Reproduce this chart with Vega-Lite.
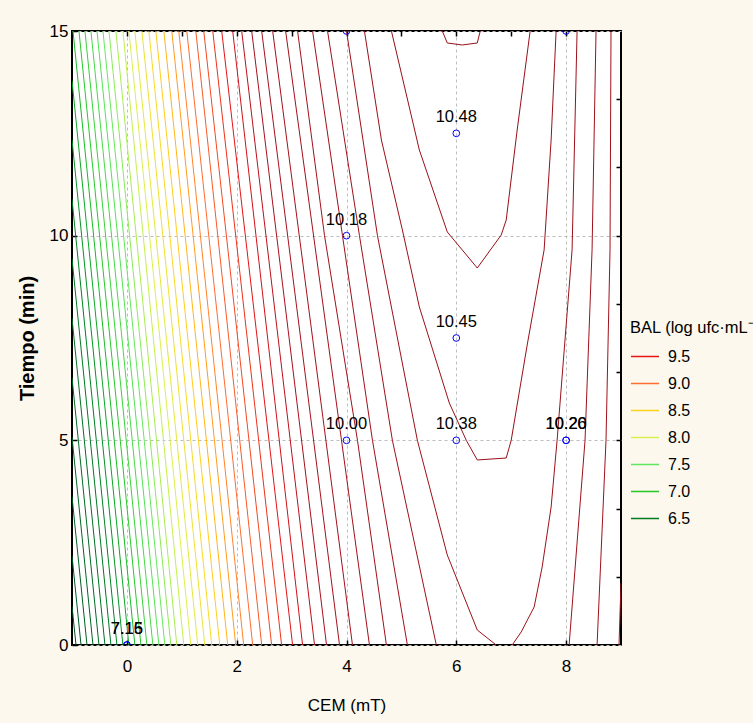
{
  "$schema": "https://vega.github.io/schema/vega-lite/v6.json",
  "width": 549,
  "height": 614,
  "autosize": {"type": "none"},
  "padding": {"left": 72, "top": 31, "right": 132, "bottom": 78},
  "background": "#fcf8ed",
  "config": {
    "view": {"fill": "#ffffff", "stroke": "#000000", "strokeWidth": 2},
    "font": "Liberation Sans",
    "axis": {"labelColor": "#000000", "titleColor": "#000000", "tickColor": "#000000", "tickWidth": 1.5, "domain": false, "labelFont": "Liberation Sans", "titleFont": "Liberation Sans"},
    "legend": {"labelFont": "Liberation Sans", "titleFont": "Liberation Sans"},
    "text": {"font": "Liberation Sans"}
  },
  "datasets": {
    "lines": [
      {"id":"n10","lvl":5.65,"o":0,"x":-1,"t":0.95},{"id":"n10","lvl":5.65,"o":1,"x":-0.927,"t":0},
      {"id":"n9","lvl":5.775,"o":0,"x":-1,"t":2.18},{"id":"n9","lvl":5.775,"o":1,"x":-0.836,"t":0},
      {"id":"n8","lvl":5.9,"o":0,"x":-1,"t":3.63},{"id":"n8","lvl":5.9,"o":1,"x":-0.727,"t":0},
      {"id":"n7","lvl":6.025,"o":0,"x":-1,"t":5.08},{"id":"n7","lvl":6.025,"o":1,"x":-0.618,"t":0},
      {"id":"n6","lvl":6.15,"o":0,"x":-1,"t":6.53},{"id":"n6","lvl":6.15,"o":1,"x":-0.509,"t":0},
      {"id":"n5","lvl":6.275,"o":0,"x":-1,"t":7.98},{"id":"n5","lvl":6.275,"o":1,"x":-0.4,"t":0},
      {"id":"n4","lvl":6.4,"o":0,"x":-1,"t":9.44},{"id":"n4","lvl":6.4,"o":1,"x":-0.291,"t":0},
      {"id":"n3","lvl":6.525,"o":0,"x":-1,"t":10.89},{"id":"n3","lvl":6.525,"o":1,"x":-0.182,"t":0},
      {"id":"n2","lvl":6.65,"o":0,"x":-1,"t":12.34},{"id":"n2","lvl":6.65,"o":1,"x":-0.073,"t":0},
      {"id":"n1","lvl":6.775,"o":0,"x":-1,"t":13.79},{"id":"n1","lvl":6.775,"o":1,"x":0.036,"t":0},
      {"id":"p0","lvl":6.9,"o":0,"x":-0.982,"t":15},{"id":"p0","lvl":6.9,"o":1,"x":0.145,"t":0},
      {"id":"p1","lvl":7.025,"o":0,"x":-0.873,"t":15},{"id":"p1","lvl":7.025,"o":1,"x":0.255,"t":0},
      {"id":"p2","lvl":7.15,"o":0,"x":-0.764,"t":15},{"id":"p2","lvl":7.15,"o":1,"x":0.364,"t":0},
      {"id":"p3","lvl":7.275,"o":0,"x":-0.655,"t":15},{"id":"p3","lvl":7.275,"o":1,"x":0.473,"t":0},
      {"id":"p4","lvl":7.4,"o":0,"x":-0.545,"t":15},{"id":"p4","lvl":7.4,"o":1,"x":0.582,"t":0},
      {"id":"p5","lvl":7.525,"o":0,"x":-0.436,"t":15},{"id":"p5","lvl":7.525,"o":1,"x":0.691,"t":0},
      {"id":"p6","lvl":7.65,"o":0,"x":-0.327,"t":15},{"id":"p6","lvl":7.65,"o":1,"x":0.8,"t":0},
      {"id":"p7","lvl":7.775,"o":0,"x":-0.2,"t":15},{"id":"p7","lvl":7.775,"o":1,"x":0.909,"t":0},
      {"id":"p8","lvl":7.9,"o":0,"x":-0.073,"t":15},{"id":"p8","lvl":7.9,"o":1,"x":1.036,"t":0},
      {"id":"p9","lvl":8.025,"o":0,"x":0.036,"t":15},{"id":"p9","lvl":8.025,"o":1,"x":1.164,"t":0},
      {"id":"p10","lvl":8.15,"o":0,"x":0.145,"t":15},{"id":"p10","lvl":8.15,"o":1,"x":1.291,"t":0},
      {"id":"p11","lvl":8.275,"o":0,"x":0.273,"t":15},{"id":"p11","lvl":8.275,"o":1,"x":1.418,"t":0},
      {"id":"p12","lvl":8.4,"o":0,"x":0.4,"t":15},{"id":"p12","lvl":8.4,"o":1,"x":1.545,"t":0},
      {"id":"p13","lvl":8.525,"o":0,"x":0.527,"t":15},{"id":"p13","lvl":8.525,"o":1,"x":1.691,"t":0},
      {"id":"p14","lvl":8.65,"o":0,"x":0.673,"t":15},{"id":"p14","lvl":8.65,"o":1,"x":1.836,"t":0},
      {"id":"p15","lvl":8.775,"o":0,"x":0.818,"t":15},{"id":"p15","lvl":8.775,"o":1,"x":1.982,"t":0},
      {"id":"p16","lvl":8.9,"o":0,"x":0.945,"t":15},{"id":"p16","lvl":8.9,"o":1,"x":2.127,"t":0},
      {"id":"p17","lvl":9.025,"o":0,"x":1.091,"t":15},{"id":"p17","lvl":9.025,"o":1,"x":2.291,"t":0},
      {"id":"p18","lvl":9.15,"o":0,"x":1.255,"t":15},{"id":"p18","lvl":9.15,"o":1,"x":2.455,"t":0},
      {"id":"p19","lvl":9.275,"o":0,"x":1.4,"t":15},{"id":"p19","lvl":9.275,"o":1,"x":2.636,"t":0},
      {"id":"p20","lvl":9.4,"o":0,"x":1.564,"t":15},{"id":"p20","lvl":9.4,"o":1,"x":2.818,"t":0},
      {"id":"p21","lvl":9.525,"o":0,"x":1.727,"t":15},{"id":"p21","lvl":9.525,"o":1,"x":3.018,"t":0},
      {"id":"p22","lvl":9.65,"o":0,"x":1.927,"t":15},{"id":"p22","lvl":9.65,"o":1,"x":3.2,"t":0},
      {"id":"p23","lvl":9.775,"o":0,"x":2.091,"t":15},{"id":"p23","lvl":9.775,"o":1,"x":3.418,"t":0},
      {"id":"p24","lvl":9.9,"o":0,"x":2.273,"t":15},{"id":"p24","lvl":9.9,"o":1,"x":3.636,"t":0},
      {"id":"p25","lvl":10.025,"o":0,"x":2.455,"t":15},{"id":"p25","lvl":10.025,"o":1,"x":3.873,"t":0},
      {"id":"p26","lvl":10.15,"o":0,"x":2.655,"t":15},{"id":"p26","lvl":10.15,"o":1,"x":4.109,"t":0},
      {"id":"p27","lvl":10.275,"o":0,"x":2.891,"t":15},{"id":"p27","lvl":10.275,"o":1,"x":4.418,"t":0},
      {"id":"d1","lvl":10.4,"o":0,"x":3.109,"t":15},{"id":"d1","lvl":10.4,"o":1,"x":3.6,"t":10},{"id":"d1","lvl":10.4,"o":2,"x":4.2,"t":5},{"id":"d1","lvl":10.4,"o":3,"x":4.727,"t":0},
      {"id":"d2","lvl":10.4,"o":0,"x":9.0,"t":1.515},{"id":"d2","lvl":10.4,"o":1,"x":8.964,"t":0},
      {"id":"e1","lvl":10.525,"o":0,"x":3.382,"t":15},{"id":"e1","lvl":10.525,"o":1,"x":3.927,"t":10},{"id":"e1","lvl":10.525,"o":2,"x":4.473,"t":5},{"id":"e1","lvl":10.525,"o":3,"x":5.109,"t":0},
      {"id":"e2","lvl":10.525,"o":0,"x":8.818,"t":15},{"id":"e2","lvl":10.525,"o":1,"x":8.8,"t":9.654},{"id":"e2","lvl":10.525,"o":2,"x":8.727,"t":5},{"id":"e2","lvl":10.525,"o":3,"x":8.564,"t":0},
      {"id":"f1","lvl":10.65,"o":0,"x":3.655,"t":15},{"id":"f1","lvl":10.65,"o":1,"x":4.236,"t":10},{"id":"f1","lvl":10.65,"o":2,"x":4.836,"t":5},{"id":"f1","lvl":10.65,"o":3,"x":5.636,"t":0},
      {"id":"f2","lvl":10.65,"o":0,"x":8.545,"t":15},{"id":"f2","lvl":10.65,"o":1,"x":8.473,"t":9.654},{"id":"f2","lvl":10.65,"o":2,"x":8.345,"t":5},{"id":"f2","lvl":10.65,"o":3,"x":8.055,"t":0},
      {"id":"g1","lvl":10.775,"o":0,"x":4.0,"t":15},{"id":"g1","lvl":10.775,"o":1,"x":4.564,"t":10},{"id":"g1","lvl":10.775,"o":2,"x":5.291,"t":5},{"id":"g1","lvl":10.775,"o":3,"x":5.836,"t":2.199},{"id":"g1","lvl":10.775,"o":4,"x":6.382,"t":0.366},{"id":"g1","lvl":10.775,"o":5,"x":6.727,"t":0},
      {"id":"g2","lvl":10.775,"o":0,"x":7.018,"t":0},{"id":"g2","lvl":10.775,"o":1,"x":7.182,"t":0.318},{"id":"g2","lvl":10.775,"o":2,"x":7.418,"t":0.928},{"id":"g2","lvl":10.775,"o":3,"x":7.564,"t":1.906},{"id":"g2","lvl":10.775,"o":4,"x":7.727,"t":3.371},{"id":"g2","lvl":10.775,"o":5,"x":7.836,"t":5},{"id":"g2","lvl":10.775,"o":6,"x":8.109,"t":9.654},{"id":"g2","lvl":10.775,"o":7,"x":8.2,"t":15},
      {"id":"h","lvl":10.9,"o":0,"x":4.327,"t":15},{"id":"h","lvl":10.9,"o":1,"x":4.636,"t":12.337},{"id":"h","lvl":10.9,"o":2,"x":5.018,"t":10.139},{"id":"h","lvl":10.9,"o":3,"x":5.327,"t":8.258},{"id":"h","lvl":10.9,"o":4,"x":5.873,"t":5.912},{"id":"h","lvl":10.9,"o":5,"x":6.182,"t":5},{"id":"h","lvl":10.9,"o":6,"x":6.382,"t":4.52},{"id":"h","lvl":10.9,"o":7,"x":6.909,"t":4.568},{"id":"h","lvl":10.9,"o":8,"x":7.0,"t":5},{"id":"h","lvl":10.9,"o":9,"x":7.291,"t":7.329},{"id":"h","lvl":10.9,"o":10,"x":7.6,"t":9.654},{"id":"h","lvl":10.9,"o":11,"x":7.727,"t":12.337},{"id":"h","lvl":10.9,"o":12,"x":7.818,"t":15},
      {"id":"v","lvl":11.025,"o":0,"x":4.818,"t":15},{"id":"v","lvl":11.025,"o":1,"x":5.327,"t":12.093},{"id":"v","lvl":11.025,"o":2,"x":5.836,"t":10.09},{"id":"v","lvl":11.025,"o":3,"x":6.382,"t":9.21},{"id":"v","lvl":11.025,"o":4,"x":6.818,"t":10.017},{"id":"v","lvl":11.025,"o":5,"x":6.909,"t":10.383},{"id":"v","lvl":11.025,"o":6,"x":7.109,"t":12.582},{"id":"v","lvl":11.025,"o":7,"x":7.345,"t":15},
      {"id":"c","lvl":11.15,"o":0,"x":5.745,"t":15},{"id":"c","lvl":11.15,"o":1,"x":5.836,"t":14.707},{"id":"c","lvl":11.15,"o":2,"x":6.109,"t":14.658},{"id":"c","lvl":11.15,"o":3,"x":6.382,"t":14.707},{"id":"c","lvl":11.15,"o":4,"x":6.436,"t":15}
    ],
    "pts": [
      {"x":0,"t":0,"label":"7.15"},{"x":0,"t":0,"label":"7.16"},
      {"x":4,"t":5,"label":"10.00"},{"x":4,"t":10,"label":"10.18"},{"x":4,"t":15,"label":""},
      {"x":6,"t":5,"label":"10.38"},{"x":6,"t":7.5,"label":"10.45"},{"x":6,"t":12.5,"label":"10.48"},
      {"x":8,"t":5,"label":"10.20"},{"x":8,"t":5,"label":"10.26"},{"x":8,"t":15,"label":""}
    ]
  },
  "layer": [
    {
      "data": {"name": "lines"},
      "mark": {"type": "line", "clip": true, "strokeWidth": 1},
      "encoding": {
        "x": {"field": "x", "type": "quantitative", "scale": {"domain": [-1, 9], "nice": false, "zero": false},
              "axis": {"orient": "bottom", "values": [0, 2, 4, 6, 8], "format": "d", "title": "CEM (mT)", "titleFontSize": 17, "titleFontWeight": "normal", "titlePadding": 23, "labelFontSize": 17, "labelPadding": 18, "tickSize": -5, "grid": true, "gridColor": "#bdbdbd", "gridDash": [3, 3], "gridWidth": 1}},
        "y": {"field": "t", "type": "quantitative", "scale": {"domain": [0, 15], "nice": false, "zero": false},
              "axis": {"orient": "left", "values": [0, 5, 10, 15], "format": "d", "title": "Tiempo (min)", "titleFontSize": 20, "titleFontWeight": "bold", "titlePadding": 12, "labelFontSize": 17, "labelPadding": 9, "tickSize": -5, "grid": true, "gridColor": "#bdbdbd", "gridDash": [3, 3], "gridWidth": 1}},
        "color": {"field": "lvl", "type": "quantitative",
                  "scale": {"domain": [5.6, 6.5, 7.0, 7.5, 8.0, 8.5, 9.0, 9.5, 9.9, 11.2],
                            "range": ["#00501e", "#007d23", "#23c823", "#5ee65e", "#d9f050", "#ffd21e", "#ff6e32", "#e81414", "#a8101c", "#961018"]},
                  "legend": {"type": "symbol", "values": [9.5, 9, 8.5, 8, 7.5, 7, 6.5], "format": ".1f", "title": "BAL (log ufc·mL⁻¹)",
                             "orient": "none", "legendX": 558, "legendY": 289, "symbolType": "stroke", "symbolSize": 784, "symbolStrokeWidth": 1.5,
                             "labelFontSize": 16, "titleFontSize": 16.5, "titleFontWeight": "normal", "titleColor": "#000000", "labelColor": "#000000",
                             "titlePadding": 5, "rowPadding": 4, "labelOffset": 8, "titleLimit": 400, "padding": 0}},
        "detail": {"field": "id"},
        "order": {"field": "o", "type": "quantitative"}
      }
    },
    {
      "data": {"name": "pts"},
      "mark": {"type": "point", "shape": "circle", "filled": false, "color": "#0000ff", "size": 45, "strokeWidth": 1, "clip": true, "opacity": 1},
      "encoding": {
        "x": {"field": "x", "type": "quantitative", "axis": {"orient": "top", "values": [0, 1, 2, 3, 4, 5, 6, 7, 8], "labels": false, "tickSize": -5, "grid": false, "title": null}},
        "y": {"field": "t", "type": "quantitative", "axis": {"orient": "right", "values": [1.6667, 3.3333, 5, 6.6667, 8.3333, 10, 11.6667, 13.3333], "labels": false, "tickSize": -5, "grid": false, "title": null}}
      }
    },
    {
      "data": {"name": "pts"},
      "mark": {"type": "text", "dy": -11, "baseline": "alphabetic", "align": "center", "fontSize": 16.5, "color": "#000000", "clip": true},
      "encoding": {
        "x": {"field": "x", "type": "quantitative", "axis": null},
        "y": {"field": "t", "type": "quantitative", "axis": null},
        "text": {"field": "label"}
      }
    }
  ],
  "resolve": {"axis": {"x": "independent", "y": "independent"}}
}
